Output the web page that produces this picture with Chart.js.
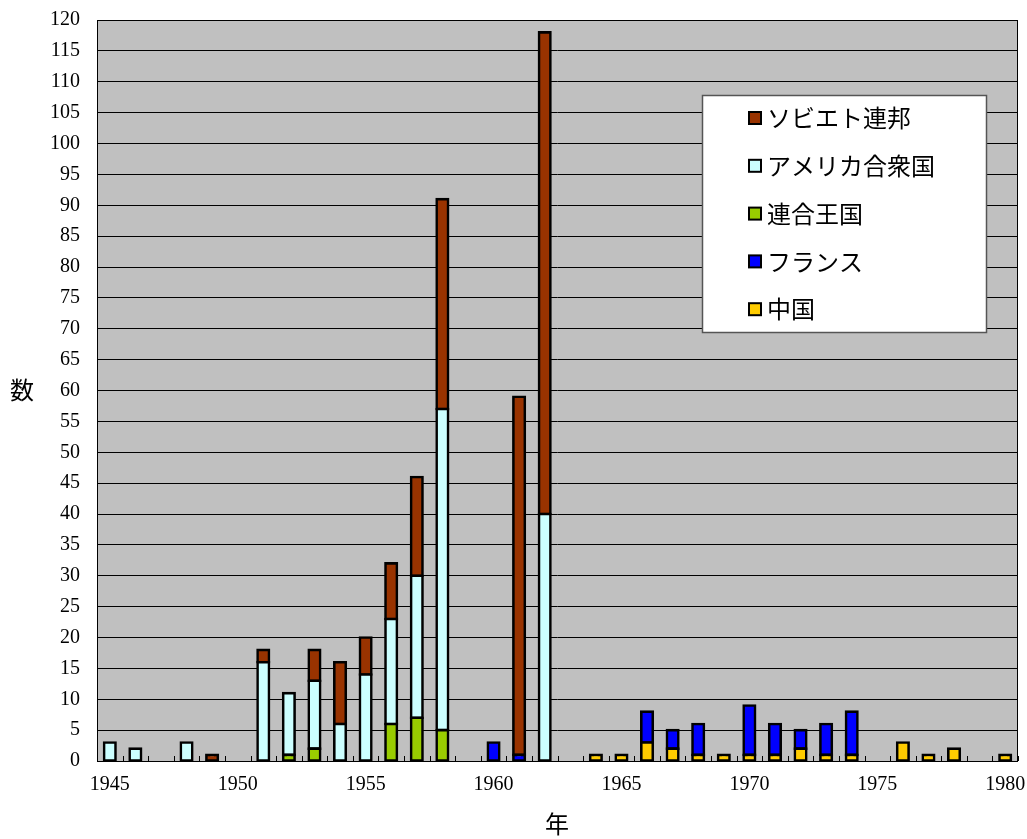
<!DOCTYPE html>
<html><head><meta charset="utf-8">
<script src="https://cdn.jsdelivr.net/npm/chart.js@4.4.0/dist/chart.umd.min.js"></script>
<style>html,body{margin:0;padding:0;background:#fff}#wrap{width:1027px;height:839px}</style>
</head><body><div id="wrap"><canvas id="c" width="1027" height="839"></canvas></div>
<script>
const years = ['1945','1946','1947','1948','1949','1950','1951','1952','1953','1954','1955','1956','1957','1958','1959','1960','1961','1962','1963','1964','1965','1966','1967','1968','1969','1970','1971','1972','1973','1974','1975','1976','1977','1978','1979','1980'];
//                1945 46   47   48   49   50   51   52   53   54   55   56   57   58   59   60   61   62   63   64   65   66   67   68   69   70   71   72   73   74   75   76   77   78   79   80
const ussr   = [null,null,null,null,1,   null,2,   null,5,   10,  6,   9,   16,  34,  null,null,58,  78,  null,null,null,null,null,null,null,null,null,null,null,null,null,null,null,null,null,null];
const usa    = [3,   2,   null,3,   null,null,16,  10,  11,  6,   14,  17,  23,  52,  null,null,null,40,  null,null,null,null,null,null,null,null,null,null,null,null,null,null,null,null,null,null];
const uk     = [null,null,null,null,null,null,null,1,   2,   null,null,6,   7,   5,   null,null,null,null,null,null,null,null,null,null,null,null,null,null,null,null,null,null,null,null,null,null];
const france = [null,null,null,null,null,null,null,null,null,null,null,null,null,null,null,3,   1,   null,null,null,null,5,   3,   5,   null,8,   5,   3,   5,   7,   null,null,null,null,null,null];
const china  = [null,null,null,null,null,null,null,null,null,null,null,null,null,null,null,null,null,null,null,1,   1,   3,   2,   1,   1,   1,   1,   2,   1,   1,   null,3,   1,   2,   null,1];
const seriesNames = ['ソビエト連邦','アメリカ合衆国','連合王国','フランス','中国'];
const seriesColors = ['#993300','#CCFFFF','#99CC00','#0000FF','#FFCC00'];
const yTitle = '数';
const xTitle = '年';

const SERIF = '"Liberation Serif", "Times New Roman", serif';
const CJK = '"Noto Sans CJK JP", sans-serif';

function ds(label, data, color){
  return {label, data, backgroundColor:color, borderColor:'#000', borderWidth:2.6,
          inflateAmount:1.3, borderSkipped:false, barPercentage:0.45, categoryPercentage:1.0};
}

const deco = {
  id:'deco',
  beforeDraw(chart){
    const {ctx, chartArea:a} = chart;
    ctx.save();
    ctx.fillStyle = '#C0C0C0';
    ctx.fillRect(a.left, a.top, a.right-a.left, a.bottom-a.top);
    ctx.restore();
  },
  afterDraw(chart){
    const {ctx, chartArea:a} = chart;
    const xs = chart.scales.x;
    ctx.save();
    // plot border
    ctx.strokeStyle = '#000'; ctx.lineWidth = 1;
    ctx.strokeRect(a.left+0.5, a.top+0.5, a.right-a.left-1, a.bottom-a.top);
    // inside tick marks at category boundaries
    const w = (a.right-a.left)/years.length;
    ctx.beginPath();
    for(let i=0;i<=years.length;i++){
      const x = Math.round(xs.getPixelForValue(0) - w/2 + i*w)+0.5;
      ctx.moveTo(x, a.bottom); ctx.lineTo(x, a.bottom-5);
    }
    ctx.stroke();
    // legend box
    const bx = a.left+605, by = a.top+75, bw = 284, bh = 237;
    ctx.fillStyle = '#fff'; ctx.fillRect(bx, by, bw, bh);
    ctx.strokeStyle = '#555'; ctx.lineWidth = 1.5;
    ctx.strokeRect(bx+0.5, by+0.5, bw, bh);
    ctx.font = '24px ' + CJK; ctx.textBaseline = 'middle'; ctx.textAlign = 'left';
    for(let i=0;i<seriesNames.length;i++){
      const cy = by + 23 + i*47.8;
      ctx.fillStyle = seriesColors[i];
      ctx.fillRect(bx+47, cy-6, 12, 12);
      ctx.strokeStyle = '#000'; ctx.lineWidth = 2;
      ctx.strokeRect(bx+47, cy-6, 12, 12);
      ctx.fillStyle = '#000';
      ctx.fillText(seriesNames[i], bx+65, cy);
    }
    // axis titles
    ctx.textAlign = 'center'; ctx.textBaseline = 'middle'; ctx.fillStyle = '#000';
    ctx.font = '24px ' + CJK;
    ctx.fillText(yTitle, 22, 390);
    ctx.fillText(xTitle, 557, 824);
    ctx.restore();
  }
};

new Chart(document.getElementById('c'), {
  type:'bar',
  data:{
    labels: years,
    datasets:[
      ds(seriesNames[4], china,  seriesColors[4]),
      ds(seriesNames[3], france, seriesColors[3]),
      ds(seriesNames[2], uk,     seriesColors[2]),
      ds(seriesNames[1], usa,    seriesColors[1]),
      ds(seriesNames[0], ussr,   seriesColors[0])
    ]
  },
  options:{
    responsive:false, animation:false, devicePixelRatio:1,
    layout:{padding:{left:0,right:9,top:20,bottom:0}},
    plugins:{legend:{display:false}, tooltip:{enabled:false}},
    scales:{
      x:{stacked:true, offset:true,
         grid:{display:false, drawTicks:false},
         border:{display:false},
         ticks:{autoSkip:false, maxRotation:0, minRotation:0, padding:12, color:'#000',
                font:{family:SERIF, size:20},
                callback:(v,i)=> (parseInt(years[i])%5===0 ? years[i] : '')},
         afterFit:s=>{s.height=78; s.paddingLeft=0; s.paddingRight=0;}},
      y:{stacked:true, min:0, max:120,
         grid:{color:'#000', lineWidth:1, drawTicks:false},
         border:{display:false},
         ticks:{stepSize:5, padding:17, color:'#000', font:{family:SERIF, size:20}},
         afterFit:s=>{s.width=97; s.paddingTop=0; s.paddingBottom=0;}}
    }
  },
  plugins:[deco]
});
</script></body></html>
